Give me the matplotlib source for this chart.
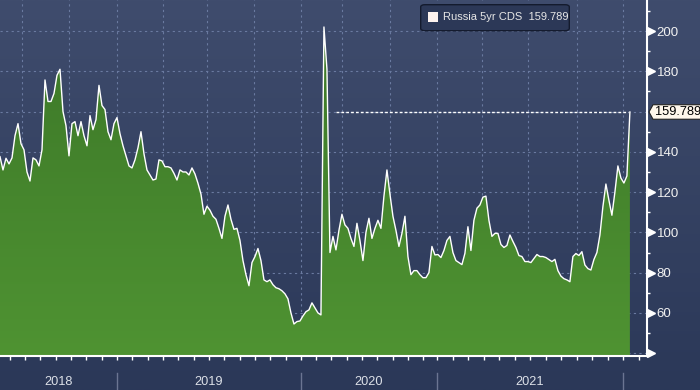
import numpy as np
import matplotlib
matplotlib.use('Agg')
import matplotlib.pyplot as plt
from matplotlib.patches import FancyBboxPatch, Polygon, Rectangle
from matplotlib.colors import LinearSegmentedColormap

plt.rcParams['font.family'] = ['Liberation Sans', 'DejaVu Sans']

# Russia 5yr CDS, roughly weekly observations (mid 2018 .. Jan 2022)
cds = [
    137.6, 131, 136.8, 134, 137, 148, 154, 144, 141, 130, 125.5, 137, 136, 133, 141,
    175.7, 165, 165, 169, 178, 181, 160, 153, 138, 154, 155, 148, 155, 148, 143,
    158, 151, 156, 173, 163, 161, 150, 146, 154, 157, 149, 143, 138, 133, 132,
    136, 142, 150, 139, 131, 128.5, 126, 126.5, 136, 135.5, 132.6, 132.6, 132, 129.3, 126,
    131, 130, 130, 128.5, 132, 129, 124.4, 119, 109, 113, 111, 108, 106.5, 102, 97,
    108, 113.6, 106.5, 101.5, 102, 96, 86, 79, 73.5, 85, 88, 92, 86, 76.4, 75.5,
    76.4, 74, 72.5, 72, 71, 69.5, 67, 60, 54.5, 55.7, 56, 58.5, 60.6, 61.5, 65,
    62.5, 60, 59, 202, 181, 90, 98, 91.3, 101, 109, 103.7, 102, 97, 93, 104.5,
    96, 86, 100, 107, 97, 102, 106, 102, 118, 131, 119, 108, 101, 93, 99.5,
    108, 88, 79, 81, 81, 79, 77.5, 77.5, 80, 93, 88.8, 89, 87.5, 91, 96,
    98, 90, 86, 85, 84, 89.6, 102.8, 91, 106, 112, 113.6, 117.5, 118, 106, 98,
    99.5, 99.5, 94, 92.5, 93.5, 98.7, 95.5, 92.5, 88.5, 88, 85.5, 85.5, 85, 87, 89,
    88, 88, 87.5, 86.5, 85.5, 86.6, 81, 78.3, 77, 76.4, 75.5, 88, 89.5, 88.5, 90.4,
    83.8, 82, 81.3, 86.5, 90, 98.7, 112.8, 124, 116, 108.5, 120, 133, 127, 124.5, 128,
    159.789,
]
series_name = 'Russia 5yr CDS'
last_value = cds[-1]

year_labels = ['2018', '2019', '2020', '2021']
# year boundaries on the observation axis (start of 2019, 2020, 2021, 2022)
year_bounds = [0, 39.0, 100.3, 145.7, 207.7]
quarter_grid = [7.3, 23, 39, 54.3, 69, 84.7, 100.3, 114, 130, 145.7, 160.7, 176, 192.3, 207.7]
y_major = [40, 60, 80, 100, 120, 140, 160, 180, 200]
y_minor = [50, 70, 90, 110, 130, 150, 170, 190, 210]
# 40 sits on the axis floor, 160 is hidden behind the last-value tag
y_labelled = [60, 80, 100, 120, 140, 180, 200]

x = np.arange(len(cds))
x_max = 215.7
y_lo, y_hi = 38.6, 215.4

month_ticks = list(39.0 - 5.11 * np.arange(1, 8))
month_ticks += list(np.linspace(39.0, 100.3, 13)[:-1])
month_ticks += list(100.3 + 5.1 * np.arange(9))
month_ticks += list(np.linspace(145.7, 207.7, 13))
month_ticks += [207.7 + 5.17]

fig = plt.figure(figsize=(7, 3.9), dpi=100)

# whole-figure background gradient
bg = fig.add_axes([0, 0, 1, 1], zorder=-10)
bg_cmap = LinearSegmentedColormap.from_list('bg', ['#3f4c6d', '#2b3858'])
bg.imshow(np.linspace(0, 1, 256).reshape(-1, 1), cmap=bg_cmap, aspect='auto',
          extent=[0, 1, 0, 1])
bg.axis('off')

ax = fig.add_axes([0, 34 / 390, 647 / 700, 356 / 390])
ax.patch.set_visible(False)

grid_kw = dict(color='#6a7aa0', lw=0.8, ls=(0, (2, 3)), zorder=1)
for v in y_major:
    ax.axhline(v, **grid_kw)
for q in quarter_grid:
    ax.axvline(q, **grid_kw)

# green area with gradient
poly = ax.fill_between(x, cds, y_lo, facecolor='none', edgecolor='none')
green_cmap = LinearSegmentedColormap.from_list('gr', ['#3b7628', '#4f9332'])
img = ax.imshow(np.linspace(0, 1, 256).reshape(-1, 1), cmap=green_cmap, aspect='auto',
                extent=[0, x_max, y_lo, y_hi], zorder=2)
img.set_clip_path(poly.get_paths()[0], transform=ax.transData)

ax.plot(x, cds, color='white', lw=1.0, zorder=3)

# last value reference line
ax.hlines(last_value, 112, x[-1] - 0.5, colors='white', lw=1,
          linestyles=(0, (2, 1.5)), zorder=3)

ax.set_xlim(0, x_max)
ax.set_ylim(y_lo, y_hi)

for s in ['top', 'left']:
    ax.spines[s].set_visible(False)
for s in ['right', 'bottom']:
    ax.spines[s].set_color('white')
    ax.spines[s].set_linewidth(1.5)
    ax.spines[s].set_zorder(4)

ax.yaxis.tick_right()
ax.set_yticks(y_labelled)
ax.set_yticklabels([str(v) for v in y_labelled])
ax.set_yticks(y_minor, minor=True)
ax.tick_params(axis='y', which='major', length=0, pad=7, labelsize=9.5, labelcolor='#f2f2f2')
ax.tick_params(axis='y', which='minor', length=2.5, width=1, color='white', direction='out')
tri = [v for v in y_major if v != 160]
ax.plot([1.0062] * len(tri), tri, ls='none', marker='>', ms=5.5, color='white',
        transform=ax.get_yaxis_transform(), clip_on=False, zorder=5)

ax.set_xticks(month_ticks)
ax.tick_params(axis='x', which='major', length=3, width=1, color='white',
               direction='out', labelbottom=False)

xt = ax.get_xaxis_transform()
for b in year_bounds[1:]:
    ax.plot([b, b], [-0.048, -0.1], color='#6b7592', lw=1, transform=xt, clip_on=False)
for lab, a, b in zip(year_labels, year_bounds[:-1], year_bounds[1:]):
    ax.text((a + b) / 2, -0.073, lab, transform=xt, ha='center', va='center',
            fontsize=9.2, color='#dde1e8')

# last value tag on the axis
yt = ax.get_yaxis_transform()
tag = Polygon([(1.0031, last_value), (1.0093, last_value + 3.6), (1.13, last_value + 3.6),
               (1.13, last_value - 3.6), (1.0093, last_value - 3.6)], closed=True,
              facecolor='#fff7ec', edgecolor='#222222', lw=0.8, transform=yt,
              clip_on=False, zorder=6)
ax.add_patch(tag)
ax.text(1.012, last_value, f'{last_value:.3f}', transform=yt, ha='left', va='center',
        fontsize=9.2, color='black', clip_on=False, zorder=7)

# legend box
leg = FancyBboxPatch((420.7 / 700, 1 - 30.7 / 390), 148.6 / 700, 26 / 390,
                     boxstyle='round,pad=0,rounding_size=0.006', transform=fig.transFigure,
                     facecolor='#2c3857', edgecolor='#141b2e', lw=1, zorder=8)
fig.patches.append(leg)
fig.patches.append(Rectangle((428 / 700, 1 - 21.7 / 390), 9.7 / 700, 9.4 / 390,
                             transform=fig.transFigure, facecolor='#fdf3ef',
                             edgecolor='none', zorder=9))
fig.text(443.3 / 700, 1 - 17.5 / 390, f'{series_name}  {last_value:.3f}', ha='left',
         va='center', fontsize=8.0, color='#e6e6e6', zorder=9)

fig.savefig('out.png', dpi=100)
